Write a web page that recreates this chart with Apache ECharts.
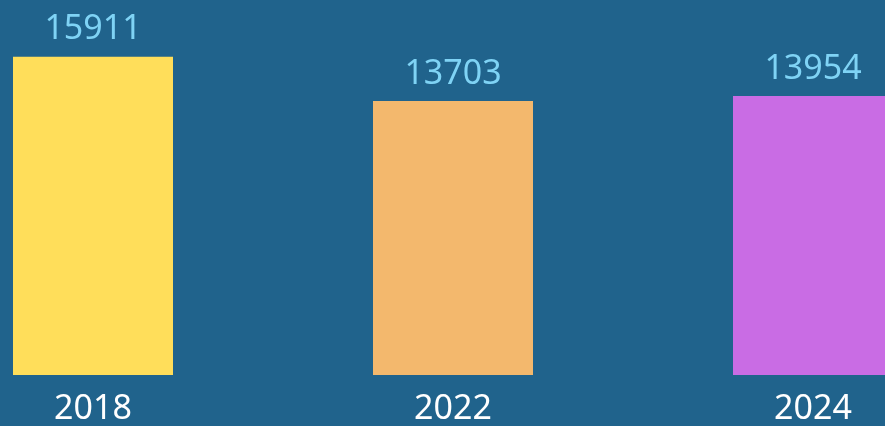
<!DOCTYPE html>
<html>
<head>
<meta charset="utf-8">
<script src="https://cdn.jsdelivr.net/npm/echarts@6/dist/echarts.min.js"></script>
<style>
  html, body { margin: 0; padding: 0; background: #20638c; overflow: hidden; }
  body { width: 885px; height: 426px; position: relative; }
  /* plot runs past the right edge in the reference, so widen and shift the canvas */
  #chart { position: absolute; left: -87px; top: 0; width: 1080px; height: 426px; }
</style>
</head>
<body>
<div id="chart"></div>
<script>
const years = ["2018", "2022", "2024"];
const values = [15911, 13703, 13954];
const barColors = ["#ffde5a", "#f3b86d", "#c96ce4"];

const chart = echarts.init(document.getElementById("chart"));

chart.setOption({
  backgroundColor: "#20638c",
  animation: false,
  grid: { left: 0, right: 0, top: 55, bottom: 50, containLabel: false },
  xAxis: {
    type: "category",
    data: years,
    axisLine: { show: false },
    axisTick: { show: false },
    axisLabel: {
      color: "#ffffff",
      fontSize: 34,
      fontFamily: "Noto Sans",
      margin: 17
    }
  },
  yAxis: {
    type: "value",
    min: 0,
    max: 16000,
    show: false,
    splitLine: { show: false }
  },
  series: [
    {
      type: "bar",
      barWidth: 160,
      data: values.map((value, i) => ({
        value,
        itemStyle: { color: barColors[i] }
      })),
      label: {
        show: true,
        position: "top",
        distance: 10,
        color: "#7fd3f5",
        fontSize: 34,
        fontFamily: "Noto Sans"
      }
    }
  ]
});
</script>
</body>
</html>
